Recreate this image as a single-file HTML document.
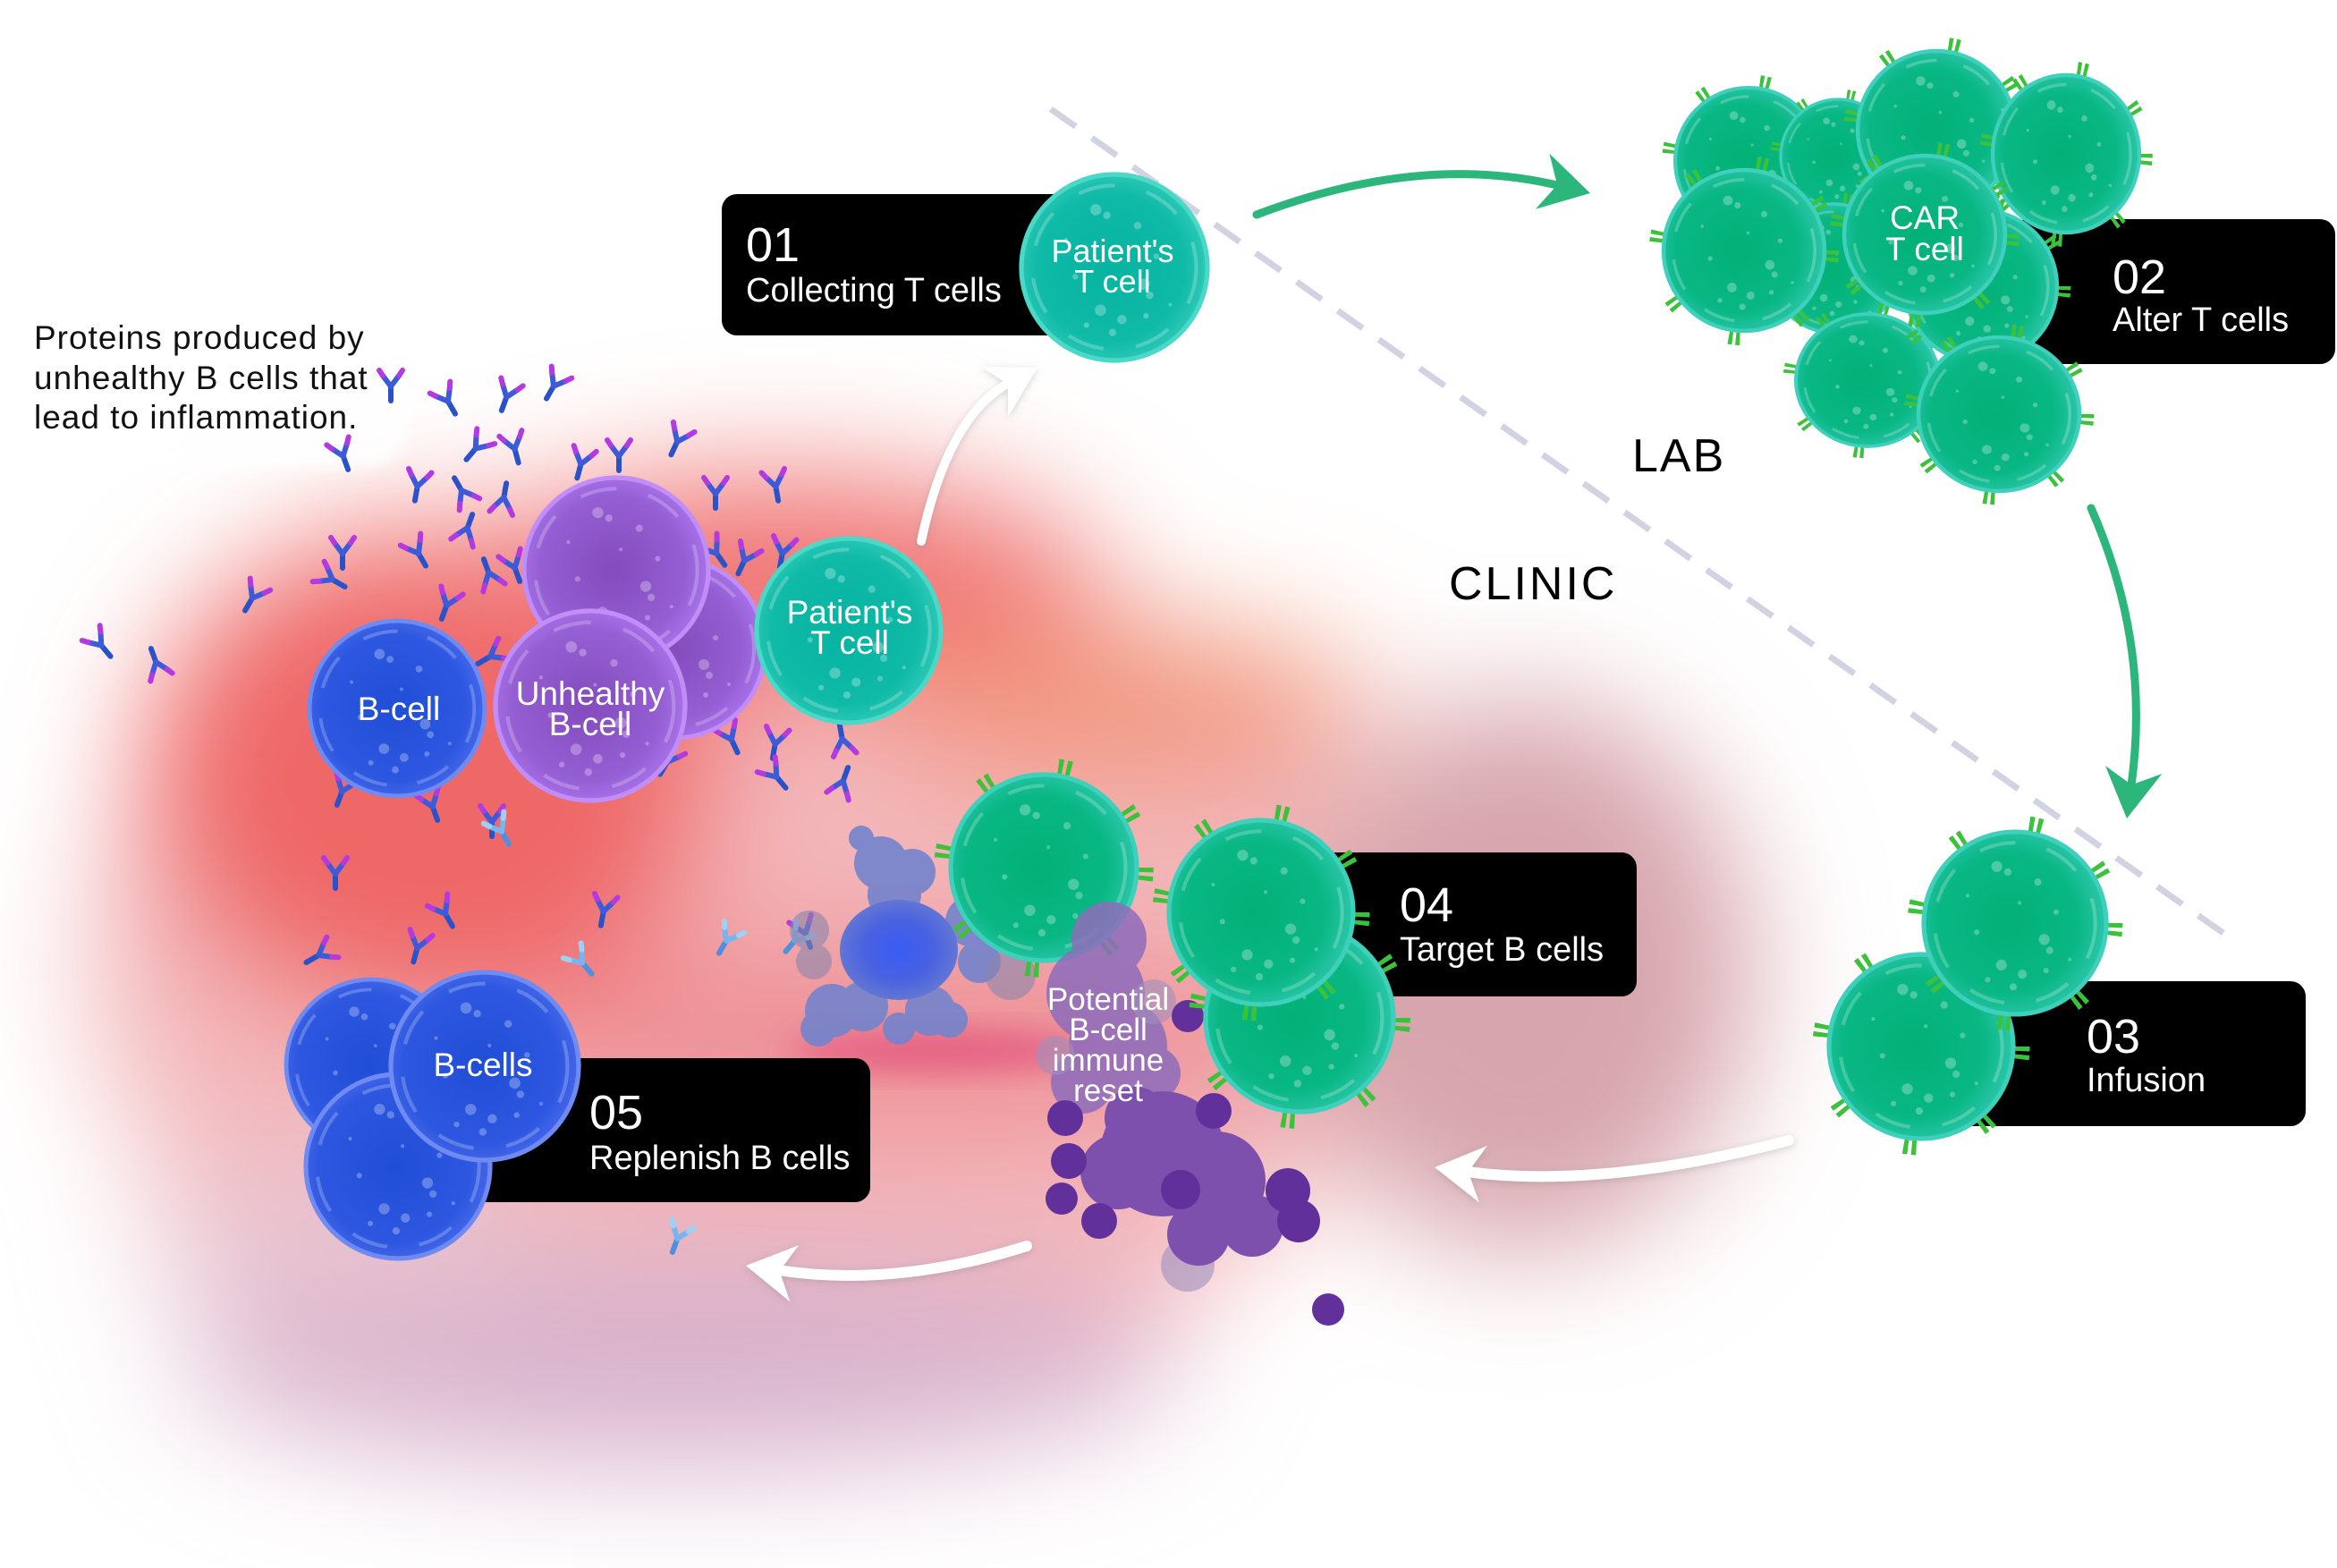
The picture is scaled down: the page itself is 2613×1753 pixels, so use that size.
<!DOCTYPE html>
<html><head><meta charset="utf-8"><style>
html,body{margin:0;padding:0;background:#fff;}
svg{display:block}
text{font-family:"Liberation Sans",sans-serif;}
</style></head><body>
<svg width="2613" height="1753" viewBox="0 0 2613 1753" xmlns="http://www.w3.org/2000/svg">
<defs>
 <filter id="b70" x="-50%" y="-50%" width="200%" height="200%"><feGaussianBlur stdDeviation="70"/></filter>
 <filter id="b40" x="-50%" y="-50%" width="200%" height="200%"><feGaussianBlur stdDeviation="40"/></filter>
 <filter id="b18" x="-50%" y="-50%" width="200%" height="200%"><feGaussianBlur stdDeviation="18"/></filter>
 <filter id="b8" x="-50%" y="-50%" width="200%" height="200%"><feGaussianBlur stdDeviation="8"/></filter>
 <filter id="sh" x="-20%" y="-20%" width="140%" height="140%"><feDropShadow dx="0" dy="2" stdDeviation="4" flood-color="#777" flood-opacity=".3"/></filter>
 <radialGradient id="gT" cx="48%" cy="50%" r="55%"><stop offset="0" stop-color="#06b4a1"/><stop offset=".72" stop-color="#0fbaa7"/><stop offset="1" stop-color="#35ccba"/></radialGradient>
 <radialGradient id="gC" cx="46%" cy="50%" r="55%"><stop offset="0" stop-color="#02b176"/><stop offset=".7" stop-color="#09b784"/><stop offset="1" stop-color="#2dc7ac"/></radialGradient>
 <radialGradient id="gB" cx="48%" cy="50%" r="55%"><stop offset="0" stop-color="#214ed6"/><stop offset=".75" stop-color="#2d57e0"/><stop offset="1" stop-color="#4a6bec"/></radialGradient>
 <radialGradient id="gP" cx="48%" cy="50%" r="55%"><stop offset="0" stop-color="#834bbb"/><stop offset=".72" stop-color="#955fd4"/><stop offset="1" stop-color="#ac75ee"/></radialGradient>
 <radialGradient id="gBl" cx="50%" cy="50%" r="50%"><stop offset="0" stop-color="#3a5cf6"/><stop offset=".6" stop-color="#4a62e0"/><stop offset="1" stop-color="#6276d4"/></radialGradient>
 <g id="spots" fill="#fff" fill-opacity=".28">
  <circle cx="-20" cy="-62" r="6"/><circle cx="-8" cy="-56" r="4"/><circle cx="25" cy="-45" r="4"/><circle cx="-42" cy="10" r="3"/>
  <circle cx="32" cy="18" r="6"/><circle cx="38" cy="30" r="4"/><circle cx="-15" cy="46" r="6"/><circle cx="8" cy="56" r="5"/>
  <circle cx="34" cy="52" r="3"/><circle cx="-30" cy="62" r="3"/><circle cx="45" cy="-12" r="3"/><circle cx="5" cy="-22" r="2"/>
  <circle cx="-52" cy="-30" r="2"/><circle cx="60" cy="40" r="2"/><circle cx="-2" cy="70" r="4"/>
 </g>
 <g id="rim"><circle r="88" fill="none" stroke="#fff" stroke-opacity=".22" stroke-width="4" stroke-dasharray="40 35"/></g>
 <g id="teal"><circle r="100" fill="url(#gT)" stroke="#4bd8c8" stroke-width="5"/><use href="#rim"/><use href="#spots"/></g>
 <g id="car"><circle r="110" fill="none" stroke="#3cc23a" stroke-width="16" stroke-dasharray="5 4 5 75"/><circle r="100" fill="url(#gC)" stroke="#3ed0bb" stroke-width="5"/><use href="#rim"/><use href="#spots"/></g>
 <g id="blue"><circle r="100" fill="url(#gB)" stroke="#6f8bf2" stroke-width="5"/><use href="#rim"/><use href="#spots"/></g>
 <g id="purp"><circle r="100" fill="url(#gP)" stroke="#c18ef8" stroke-width="5"/><use href="#rim"/><use href="#spots"/></g>
 <g id="ab" fill="none" stroke-linecap="round">
  <path d="M0,2 V18" stroke="#2a52c8" stroke-width="6"/>
  <path d="M0,2 L-9,-10 M0,2 L9,-10" stroke="#3d5ad8" stroke-width="6"/>
  <path d="M-9,-10 L-13,-16 M9,-10 L13,-16" stroke="#b33ae0" stroke-width="6"/>
 </g>
 <g id="ab2" fill="none" stroke-linecap="round">
  <path d="M0,2 V18" stroke="#4f8fe0" stroke-width="6"/>
  <path d="M0,2 L-9,-10 M0,2 L9,-10" stroke="#78b4ee" stroke-width="6"/>
  <path d="M-9,-10 L-13,-16 M9,-10 L13,-16" stroke="#9fd0f6" stroke-width="6"/>
 </g>
 <path id="head" d="M0,0 L-55,-32 L-38,0 L-55,32 Z"/>
</defs>

<rect width="2613" height="1753" fill="#fff"/>

<!-- background wash -->
<g filter="url(#b70)">
 <ellipse cx="830" cy="1080" rx="730" ry="500" fill="#f3b8bb"/>
 <ellipse cx="760" cy="1520" rx="560" ry="120" fill="#d8b3cc"/>
 <ellipse cx="1700" cy="1090" rx="260" ry="310" fill="#d7a5ad"/>
 <ellipse cx="480" cy="870" rx="320" ry="280" fill="#ef6767"/>
 <ellipse cx="870" cy="650" rx="360" ry="120" fill="#f07575"/>
 <ellipse cx="1250" cy="790" rx="280" ry="90" fill="#f2977e"/>
 <ellipse cx="1000" cy="1160" rx="450" ry="110" fill="#ee8f95"/>
 <ellipse cx="380" cy="1380" rx="220" ry="90" fill="#e8c3d0"/>
</g>
<g filter="url(#b18)">
 <ellipse cx="1050" cy="1175" rx="170" ry="22" fill="#e2507b" opacity=".8"/>
</g>

<!-- text panel top-left -->
<rect x="-40" y="325" width="495" height="198" rx="45" fill="#fff" opacity=".85" filter="url(#b8)"/>
<g font-size="37" fill="#111" letter-spacing="1">
 <text x="38" y="390">Proteins produced by</text>
 <text x="38" y="435">unhealthy B cells that</text>
 <text x="38" y="479">lead to inflammation.</text>
</g>

<!-- dashed line -->
<line x1="1175" y1="122" x2="2500" y2="1053" stroke="#d2d3e2" stroke-width="7" stroke-dasharray="34 22"/>

<!-- LAB / CLINIC -->
<text x="1825" y="527" font-size="52" fill="#000" letter-spacing="2">LAB</text>
<text x="1620" y="670" font-size="52" fill="#000" letter-spacing="3">CLINIC</text>

<!-- green arrows -->
<path d="M1405,240 Q1590,170 1745,208" fill="none" stroke="#2db67c" stroke-width="9" stroke-linecap="round"/>
<use href="#head" transform="translate(1778,216) rotate(14)" fill="#2db67c"/>
<path d="M2338,568 Q2405,720 2383,878" fill="none" stroke="#2db67c" stroke-width="9" stroke-linecap="round"/>
<use href="#head" transform="translate(2378,915) rotate(98)" fill="#2db67c"/>

<!-- white arrows -->
<g filter="url(#sh)" fill="#fff">
 <path d="M1030,605 Q1060,465 1128,428" fill="none" stroke="#fff" stroke-width="10" stroke-linecap="round"/>
 <use href="#head" transform="translate(1160,411) rotate(-29)"/>
 <path d="M1148,1393 Q1000,1440 870,1420" fill="none" stroke="#fff" stroke-width="12" stroke-linecap="round"/>
 <use href="#head" transform="translate(834,1415) rotate(189)"/>
 <path d="M2000,1275 Q1790,1330 1640,1310" fill="none" stroke="#fff" stroke-width="12" stroke-linecap="round"/>
 <use href="#head" transform="translate(1604,1305) rotate(188)"/>
</g>

<!-- black boxes -->
<rect x="807" y="217" width="430" height="158" rx="17" fill="#000"/>
<rect x="2250" y="245" width="361" height="162" rx="17" fill="#000"/>
<rect x="2150" y="1097" width="428" height="162" rx="17" fill="#000"/>
<rect x="1450" y="953" width="380" height="161" rx="17" fill="#000"/>
<rect x="500" y="1183" width="473" height="161" rx="17" fill="#000"/>

<g fill="#fff">
 <text x="834" y="292" font-size="54">01</text>
 <text x="834" y="337" font-size="38">Collecting T cells</text>
 <text x="2362" y="328" font-size="54">02</text>
 <text x="2362" y="370" font-size="38">Alter T cells</text>
 <text x="2333" y="1177" font-size="54">03</text>
 <text x="2333" y="1220" font-size="38">Infusion</text>
 <text x="1565" y="1030" font-size="54">04</text>
 <text x="1565" y="1074" font-size="38">Target B cells</text>
 <text x="659" y="1262" font-size="54">05</text>
 <text x="659" y="1307" font-size="38">Replenish B cells</text>
</g>

<!-- antibodies -->
<use href="#ab" transform="translate(437,430) rotate(0)"/>
<use href="#ab" transform="translate(500,447) rotate(-30)"/>
<use href="#ab" transform="translate(567,442) rotate(20)"/>
<use href="#ab" transform="translate(620,430) rotate(30)"/>
<use href="#ab" transform="translate(383,508) rotate(-20)"/>
<use href="#ab" transform="translate(467,542) rotate(10)"/>
<use href="#ab" transform="translate(533,500) rotate(40)"/>
<use href="#ab" transform="translate(575,500) rotate(-15)"/>
<use href="#ab" transform="translate(692,508) rotate(0)"/>
<use href="#ab" transform="translate(758,492) rotate(25)"/>
<use href="#ab" transform="translate(867,542) rotate(-10)"/>
<use href="#ab" transform="translate(517,550) rotate(150)"/>
<use href="#ab" transform="translate(563,558) rotate(190)"/>
<use href="#ab" transform="translate(383,617) rotate(0)"/>
<use href="#ab" transform="translate(467,617) rotate(-30)"/>
<use href="#ab" transform="translate(522,592) rotate(200)"/>
<use href="#ab" transform="translate(283,667) rotate(30)"/>
<use href="#ab" transform="translate(370,647) rotate(-60)"/>
<use href="#ab" transform="translate(500,675) rotate(20)"/>
<use href="#ab" transform="translate(547,642) rotate(160)"/>
<use href="#ab" transform="translate(575,633) rotate(-20)"/>
<use href="#ab" transform="translate(650,517) rotate(15)"/>
<use href="#ab" transform="translate(800,550) rotate(0)"/>
<use href="#ab" transform="translate(800,617) rotate(-35)"/>
<use href="#ab" transform="translate(833,625) rotate(25)"/>
<use href="#ab" transform="translate(875,617) rotate(10)"/>
<use href="#ab" transform="translate(483,733) rotate(-70)"/>
<use href="#ab" transform="translate(550,733) rotate(60)"/>
<use href="#ab" transform="translate(112,720) rotate(-40)"/>
<use href="#ab" transform="translate(175,742) rotate(160)"/>
<use href="#ab" transform="translate(383,883) rotate(20)"/>
<use href="#ab" transform="translate(483,900) rotate(-20)"/>
<use href="#ab" transform="translate(550,917) rotate(0)"/>
<use href="#ab" transform="translate(747,850) rotate(30)"/>
<use href="#ab" transform="translate(817,825) rotate(-25)"/>
<use href="#ab" transform="translate(867,830) rotate(10)"/>
<use href="#ab" transform="translate(942,828) rotate(170)"/>
<use href="#ab" transform="translate(942,875) rotate(200)"/>
<use href="#ab" transform="translate(867,867) rotate(-40)"/>
<use href="#ab" transform="translate(783,783) rotate(20)"/>
<use href="#ab" transform="translate(375,975) rotate(0)"/>
<use href="#ab" transform="translate(497,1020) rotate(-30)"/>
<use href="#ab" transform="translate(467,1058) rotate(15)"/>
<use href="#ab" transform="translate(358,1067) rotate(60)"/>
<use href="#ab" transform="translate(675,1017) rotate(10)"/>
<use href="#ab2" transform="translate(650,1075) rotate(-40)"/>
<use href="#ab2" transform="translate(813,1050) rotate(30)"/>
<use href="#ab" transform="translate(900,1042) rotate(-20)"/>
<use href="#ab2" transform="translate(758,1383) rotate(20)"/>
<use href="#ab2" transform="translate(560,928) rotate(-30)"/>
<use href="#ab2" transform="translate(890,1050) rotate(40)"/>

<!-- top patient's T cell -->
<use href="#teal" transform="translate(1246,299) scale(1.04)"/>
<g fill="#fff" font-size="36" text-anchor="middle">
 <text x="1244" y="293">Patient's</text>
 <text x="1244" y="327">T cell</text>
</g>

<!-- CAR T cluster -->
<use href="#car" transform="translate(1955,180) scale(.82)"/>
<use href="#car" transform="translate(2055,175) scale(.64)"/>
<use href="#car" transform="translate(2165,145) scale(.88)"/>
<use href="#car" transform="translate(2310,172) scale(.82,.88)"/>
<use href="#car" transform="translate(2050,300) scale(.72)"/>
<use href="#car" transform="translate(2088,425) scale(.8,.74)"/>
<use href="#car" transform="translate(2215,320) scale(.85)"/>
<use href="#car" transform="translate(1950,280) scale(.9)"/>
<use href="#car" transform="translate(2235,463) scale(.9,.86)"/>
<use href="#car" transform="translate(2152,262) scale(.9,.88)"/>
<g fill="#fff" font-size="37" text-anchor="middle">
 <text x="2152" y="256">CAR</text>
 <text x="2152" y="291">T cell</text>
</g>

<!-- 03 cells -->
<use href="#car" transform="translate(2148,1170) scale(1.03)"/>
<use href="#car" transform="translate(2253,1032) scale(1.02)"/>

<!-- left B cell group -->
<use href="#blue" transform="translate(444,792) scale(.98)"/>
<use href="#purp" transform="translate(755,725) scale(1)"/>
<use href="#purp" transform="translate(689,637) scale(1.03)"/>
<use href="#purp" transform="translate(660,789) scale(1.06)"/>
<use href="#teal" transform="translate(949,705) scale(1.03)"/>
<g fill="#fff" font-size="37" text-anchor="middle">
 <text x="446" y="805">B-cell</text>
 <text x="660" y="788">Unhealthy</text>
 <text x="660" y="822">B-cell</text>
 <text x="950" y="697">Patient's</text>
 <text x="950" y="731">T cell</text>
</g>

<!-- blue blob -->
<g>
 <g fill="#7383cc" opacity=".9">
  <circle cx="963" cy="937" r="14"/>
  <circle cx="985" cy="965" r="30"/><circle cx="1020" cy="975" r="26"/><circle cx="1000" cy="1000" r="30"/>
  <circle cx="1085" cy="1030" r="28"/><circle cx="1095" cy="1075" r="24"/>
  <circle cx="930" cy="1130" r="30"/><circle cx="965" cy="1125" r="28"/>
  <circle cx="1040" cy="1130" r="28"/><circle cx="1062" cy="1140" r="20"/>
  <circle cx="915" cy="1150" r="20"/><circle cx="1005" cy="1150" r="18"/>
 </g>
 <g fill="#8a86ac" opacity=".6">
  <circle cx="905" cy="1040" r="22"/><circle cx="910" cy="1075" r="20"/>
  <circle cx="1125" cy="1000" r="25"/><circle cx="1130" cy="1090" r="28"/>
 </g>
 <ellipse cx="1005" cy="1062" rx="66" ry="56" fill="url(#gBl)"/>
</g>

<!-- 04 cell A -->
<use href="#car" transform="translate(1167,970) scale(1.04)"/>

<!-- purple debris -->
<g>
 <g fill="#8e6cbb" opacity=".85">
  <circle cx="1240" cy="1050" r="42"/><circle cx="1225" cy="1110" r="55"/><circle cx="1250" cy="1170" r="55"/>
  <circle cx="1210" cy="1210" r="35"/><circle cx="1290" cy="1200" r="30"/>
 </g>
 <g fill="#a090bc" opacity=".6">
  <circle cx="1328" cy="1414" r="30"/><circle cx="1290" cy="1120" r="25"/><circle cx="1180" cy="1180" r="22"/>
 </g>
 <g fill="#7d50ad">
  <circle cx="1300" cy="1290" r="70"/><circle cx="1360" cy="1320" r="55"/><circle cx="1250" cy="1310" r="42"/>
  <circle cx="1400" cy="1370" r="35"/><circle cx="1340" cy="1380" r="35"/><circle cx="1270" cy="1250" r="35"/>
 </g>
 <g fill="#62309a">
  <circle cx="1191" cy="1250" r="20"/><circle cx="1357" cy="1242" r="20"/><circle cx="1440" cy="1331" r="25"/>
  <circle cx="1452" cy="1365" r="24"/><circle cx="1195" cy="1298" r="20"/><circle cx="1187" cy="1340" r="18"/>
  <circle cx="1229" cy="1365" r="20"/><circle cx="1328" cy="1136" r="18"/><circle cx="1485" cy="1464" r="18"/>
  <circle cx="1320" cy="1330" r="22"/>
 </g>
</g>
<g fill="#fff" font-size="35" text-anchor="middle">
 <text x="1239" y="1129">Potential</text>
 <text x="1239" y="1163">B-cell</text>
 <text x="1239" y="1197">immune</text>
 <text x="1239" y="1231">reset</text>
</g>

<!-- 04 cells C and B -->
<use href="#car" transform="translate(1453,1138) scale(1.05)"/>
<use href="#car" transform="translate(1410,1020) scale(1.03)"/>

<!-- 05 B cells -->
<use href="#blue" transform="translate(415,1190) scale(.95)"/>
<use href="#blue" transform="translate(445,1304) scale(1.03)"/>
<use href="#blue" transform="translate(542,1192) scale(1.05)"/>
<text x="540" y="1203" fill="#fff" font-size="37" text-anchor="middle">B-cells</text>

</svg>
</body></html>
